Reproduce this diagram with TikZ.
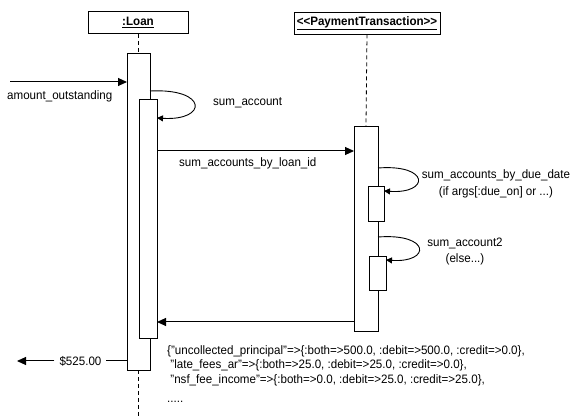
\documentclass[tikz,border=0pt]{standalone}
\usepackage{fontspec}
\setmainfont{Liberation Sans}[FakeStretch=0.95, Ligatures=NoCommon]
\usetikzlibrary{arrows.meta}

\begin{document}
\begin{tikzpicture}[x=1pt, y=-1pt,
  font=\fontsize{12.2}{15}\selectfont,
  head/.style={draw, line width=0.8pt, minimum height=22pt, inner sep=0pt, font=\fontsize{12.2}{15}\selectfont\bfseries},
  bar/.style={draw, fill=white, line width=0.8pt, inner sep=0pt, outer sep=0pt, anchor=north west},
  lifeline/.style={line width=0.8pt, dash pattern=on 4pt off 3pt},
  msg/.style={line width=1pt, -{Triangle[length=9pt, width=8pt]}},
  selfmsg/.style={line width=0.9pt, -{Triangle[length=6pt, width=6pt]}},
  lbl/.style={inner sep=0pt, anchor=west}
]
\useasboundingbox (0,0) rectangle (573,419);

% object heads
\node[head, minimum width=100pt] (loanH) at (138,22.5) {\underline{:Loan}};
\node[head, minimum width=146pt] (ptH) at (367,23) {\underline{<{}<PaymentTransaction>{}>}};

% lifelines
\coordinate (loanEnd) at (138,419);
\draw[lifeline] (loanH.south) -- (138,53);
\draw[lifeline] (138,370) -- (loanEnd);
\draw[lifeline] (ptH.south) -- (366,126);

% activation bars
\node[bar, minimum width=23pt, minimum height=317pt] (loanA) at (127,53) {};
\node[bar, minimum width=18pt, minimum height=239pt] (loanB) at (139,99) {};
\node[bar, minimum width=24pt, minimum height=205pt] (ptA) at (354,126) {};
\node[bar, minimum width=16pt, minimum height=35pt] (ptB) at (368,186) {};
\node[bar, minimum width=17pt, minimum height=34pt] (ptC) at (369,256) {};

% incoming call
\coordinate (caller) at (10,82);
\draw[msg] (caller) -- (loanA.west |- caller);
\node[lbl] (lAmount) at (7,96) {amount\_outstanding};

% self call on the loan
\draw[selfmsg] (loanA.east |- 0,91) .. controls (208,88) and (208,121) .. (loanB.east |- 0,118);
\node[lbl] (lSum) at (213,103) {sum\_account};

% call to the payment transaction
\draw[msg] (loanB.east |- 0,151) -- (ptA.west |- 0,151);
\node[lbl] (lById) at (179,163) {sum\_accounts\_by\_loan\_id};

% self calls on the payment transaction
\draw[selfmsg] (ptA.east |- 0,168) .. controls (430,164) and (430,194) .. (ptB.east |- 0,191);
\node[align=center, inner sep=0pt, font=\fontsize{12.2}{17.5}\selectfont] (lDue) at (496,184)
  {sum\_accounts\_by\_due\_date\\(if args[:due\_on] or ...)};
\draw[selfmsg] (ptA.east |- 0,237) .. controls (431,233) and (431,263) .. (ptC.east |- 0,260);
\node[align=center, inner sep=0pt, font=\fontsize{12.2}{16}\selectfont] (lElse) at (465,252)
  {sum\_account2\\(else...)};

% return to the loan
\draw[msg] (ptA.west |- 0,322) -- (loanB.east |- 0,322);

% result returned to the caller, label sitting on the line
\node[inner sep=0pt] (lTotal) at (80.5,361) {\$525.00};
\coordinate (result) at (17,361);
\draw[line width=1pt] (loanA.west |- lTotal) -- ([xshift=4pt]lTotal.east);
\draw[msg] ([xshift=-5pt]lTotal.west) -- (result);

% returned hash
\node[inner sep=0pt, anchor=north west, align=left, font=\fontsize{12.2}{14.7}\selectfont] (hash) at (167,345)
  {\{"uncollected\_principal"=>\{:both=>500.0, :debit=>500.0, :credit=>0.0\},\\
   \ "late\_fees\_ar"=>\{:both=>25.0, :debit=>25.0, :credit=>0.0\},\\
   \ "nsf\_fee\_income"=>\{:both=>0.0, :debit=>25.0, :credit=>25.0\},\\[4pt]
   .....};
\end{tikzpicture}
\end{document}
